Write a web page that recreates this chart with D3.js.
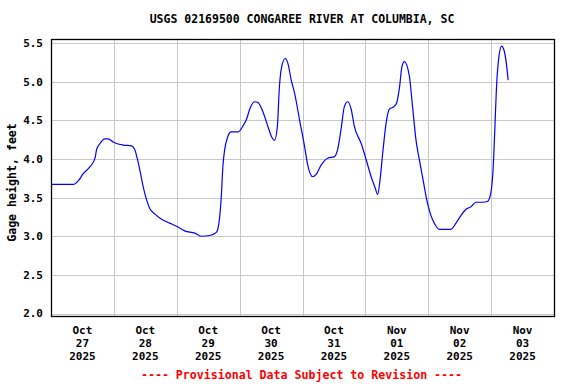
<!DOCTYPE html>
<html>
<head>
    <title>USGS 02169500 Gage Height</title>
    <script src="https://d3js.org/d3.v7.min.js"></script>
    <style>
        body {
            margin: 0;
            background: #fff;
        }
        svg text {
            font-family: "DejaVu Sans Mono", "Liberation Mono", monospace;
            font-weight: bold;
        }
        .grid line {
            stroke: #c8c8c8;
            stroke-width: 1px;
        }
        .frame {
            fill: none;
            stroke: #000;
            stroke-width: 1.3px;
        }
        .gage {
            fill: none;
            stroke: #0000ff;
            stroke-width: 1.2px;
        }
    </style>
</head>
<body>
    <div id="chart"></div>
    <script>
        // hours since 2025-10-27 00:00
        const hours = [
            0, 8.5, 10.5, 12.3, 14.9, 16.8, 17.4, 18.7, 20.6, 21.8, 23.7, 25.0, 27.5,
            30.7, 32.0, 32.9, 33.9, 35.2, 36.5, 37.7, 39.6, 42.2, 45.3, 48.5, 51.0,
            54.9, 57.4, 60.6, 63.1, 64.1, 65.0, 65.6, 66.3, 67.5, 68.8, 71.4, 73.3,
            74.6, 75.8, 77.7, 79.0, 80.9, 82.8, 84.3, 85.3, 86.4, 87.2, 88.1, 89.4,
            90.4, 91.7, 93.0, 94.9, 96.8, 98.0, 99.9, 101.2, 103.1, 105.6, 108.2,
            109.4, 110.7, 112.0, 113.3, 114.6, 115.8, 118.4, 120.3, 122.2, 123.8,
            124.7, 125.6, 126.6, 127.9, 129.1, 131.0, 131.9, 133.0, 134.0, 134.9,
            136.8, 138.0, 139.3, 140.6, 141.8, 143.7, 145.0, 146.3, 148.2, 152.6,
            154.6, 156.5, 158.4, 160.3, 162.2, 164.7, 166.6, 167.9, 168.8, 169.5,
            170.0, 171.0, 172.0, 172.9, 173.8, 174.5
        ];
        // gage height, feet
        const gage = [
            3.67, 3.67, 3.72, 3.81, 3.90, 4.01, 4.12, 4.20, 4.26, 4.26, 4.22, 4.20, 4.18,
            4.17, 4.12, 4.01, 3.86, 3.64, 3.47, 3.36, 3.29, 3.22, 3.17, 3.12, 3.07,
            3.04, 3.00, 3.01, 3.05, 3.17, 3.51, 3.90, 4.12, 4.29, 4.35, 4.35, 4.43,
            4.51, 4.64, 4.74, 4.73, 4.61, 4.42, 4.28, 4.24, 4.42, 4.94, 5.20, 5.30,
            5.24, 5.02, 4.85, 4.50, 4.16, 3.92, 3.77, 3.80, 3.92, 4.01, 4.03,
            4.12, 4.38, 4.68, 4.74, 4.64, 4.42, 4.20, 3.99, 3.77, 3.62,
            3.54, 3.73, 4.07, 4.46, 4.64, 4.68, 4.72, 4.92, 5.20, 5.26,
            5.07, 4.68, 4.25, 3.99, 3.77, 3.43, 3.27, 3.17, 3.09, 3.09,
            3.17, 3.27, 3.35, 3.38, 3.44, 3.44, 3.45, 3.56, 3.90, 4.46,
            4.89, 5.33, 5.46, 5.41, 5.24, 5.02
        ];
        const yTicks = [2.0, 2.5, 3.0, 3.5, 4.0, 4.5, 5.0, 5.5];
        const dayLabels = [
            ['Oct', '27', '2025'], ['Oct', '28', '2025'], ['Oct', '29', '2025'],
            ['Oct', '30', '2025'], ['Oct', '31', '2025'], ['Nov', '01', '2025'],
            ['Nov', '02', '2025'], ['Nov', '03', '2025']
        ];

        const width = 576;
        const height = 384;
        const plot = { left: 51, right: 554, top: 39, bottom: 316 };

        const start = Date.UTC(2025, 9, 27);
        const dayMs = 24 * 3600 * 1000;
        const data = hours.map((h, i) => ({ t: new Date(start + h * 3600 * 1000), v: gage[i] }));

        const x = d3.scaleUtc()
            .domain([new Date(start), new Date(start + 8 * dayMs)])
            .range([plot.left, plot.right]);

        const y = d3.scaleLinear()
            .domain([1.968, 5.552])
            .range([plot.bottom, plot.top]);

        const svg = d3.select('#chart')
            .append('svg')
            .attr('width', width)
            .attr('height', height);

        // grid
        const grid = svg.append('g').attr('class', 'grid');
        grid.selectAll('.h')
            .data(yTicks)
            .join('line')
            .attr('class', 'h')
            .attr('x1', plot.left)
            .attr('x2', plot.right)
            .attr('y1', d => Math.round(y(d)) + 0.5)
            .attr('y2', d => Math.round(y(d)) + 0.5);

        const midnights = d3.range(1, 8).map(i => new Date(start + i * dayMs));
        grid.selectAll('.v')
            .data(midnights)
            .join('line')
            .attr('class', 'v')
            .attr('x1', d => Math.round(x(d)) + 0.5)
            .attr('x2', d => Math.round(x(d)) + 0.5)
            .attr('y1', plot.top)
            .attr('y2', plot.bottom);

        // data line
        const line = d3.line()
            .x(d => x(d.t))
            .y(d => y(d.v))
            .curve(d3.curveMonotoneX);

        svg.append('path')
            .datum(data)
            .attr('class', 'gage')
            .attr('d', line);

        // frame
        svg.append('rect')
            .attr('class', 'frame')
            .attr('x', plot.left + 0.5)
            .attr('y', plot.top + 0.5)
            .attr('width', plot.right - plot.left)
            .attr('height', plot.bottom - plot.top);

        // y tick labels
        svg.append('g')
            .selectAll('text')
            .data(yTicks)
            .join('text')
            .attr('x', 43)
            .attr('y', d => y(d))
            .attr('dy', '0.36em')
            .attr('text-anchor', 'end')
            .style('font-size', '11px')
            .text(d => d.toFixed(1));

        // x labels at noon of each day
        const xl = svg.append('g')
            .selectAll('text')
            .data(dayLabels)
            .join('text')
            .attr('text-anchor', 'middle')
            .style('font-size', '11px')
            .attr('transform', (d, i) => `translate(${x(new Date(start + (i + 0.5) * dayMs))},0)`);
        xl.selectAll('tspan')
            .data(d => d)
            .join('tspan')
            .attr('x', 0)
            .attr('y', (d, i) => 334 + i * 13)
            .text(d => d);

        // title
        svg.append('text')
            .attr('x', 302)
            .attr('y', 23)
            .attr('text-anchor', 'middle')
            .style('font-size', '11.5px')
            .text('USGS 02169500 CONGAREE RIVER AT COLUMBIA, SC');

        // y axis title
        svg.append('text')
            .attr('transform', 'translate(16,182.5) rotate(-90)')
            .attr('text-anchor', 'middle')
            .style('font-size', '11.6px')
            .text('Gage height, feet');

        // provisional note
        svg.append('text')
            .attr('x', 301.5)
            .attr('y', 379)
            .attr('text-anchor', 'middle')
            .attr('fill', '#ff0000')
            .style('font-size', '11.6px')
            .text('---- Provisional Data Subject to Revision ----');
    </script>
</body>
</html>
